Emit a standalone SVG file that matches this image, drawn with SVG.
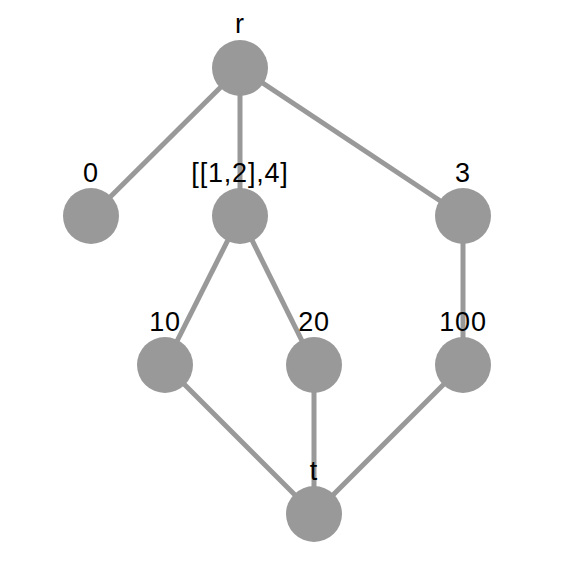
<svg xmlns="http://www.w3.org/2000/svg" width="561" height="572" viewBox="0 0 561 572">
<style>
.e{stroke:#999;stroke-width:5;fill:none}
.n{fill:#999}
.l{font-family:"Liberation Sans",Arial,sans-serif;font-size:27px;letter-spacing:0.8px;fill:#000;text-anchor:middle}
</style>
<rect width="561" height="572" fill="#fff"/>
<g id="edges">
<line class="e" x1="240" y1="68" x2="91" y2="216"/>
<line class="e" x1="240" y1="68" x2="240" y2="216"/>
<line class="e" x1="240" y1="68" x2="463" y2="216"/>
<line class="e" x1="240" y1="216" x2="165" y2="365"/>
<line class="e" x1="240" y1="216" x2="314" y2="365"/>
<line class="e" x1="463" y1="216" x2="463" y2="365"/>
<line class="e" x1="165" y1="365" x2="314" y2="514"/>
<line class="e" x1="314" y1="365" x2="314" y2="514"/>
<line class="e" x1="463" y1="365" x2="314" y2="514"/>
</g>
<g id="node-r"><circle class="n" cx="240" cy="68" r="28"/><text class="l" x="240" y="33">r</text></g>
<g id="node-0"><circle class="n" cx="91" cy="216" r="28"/><text class="l" x="91" y="182">0</text></g>
<g id="node-124"><circle class="n" cx="240" cy="216" r="28"/><text class="l" x="240" y="182">[[1,2],4]</text></g>
<g id="node-3"><circle class="n" cx="463" cy="216" r="28"/><text class="l" x="463" y="182">3</text></g>
<g id="node-10"><circle class="n" cx="165" cy="365" r="28"/><text class="l" x="165" y="331">10</text></g>
<g id="node-20"><circle class="n" cx="314" cy="365" r="28"/><text class="l" x="314" y="331">20</text></g>
<g id="node-100"><circle class="n" cx="463" cy="365" r="28"/><text class="l" x="463" y="331">100</text></g>
<g id="node-t"><circle class="n" cx="314" cy="514" r="28"/><text class="l" x="314" y="480">t</text></g>
</svg>
